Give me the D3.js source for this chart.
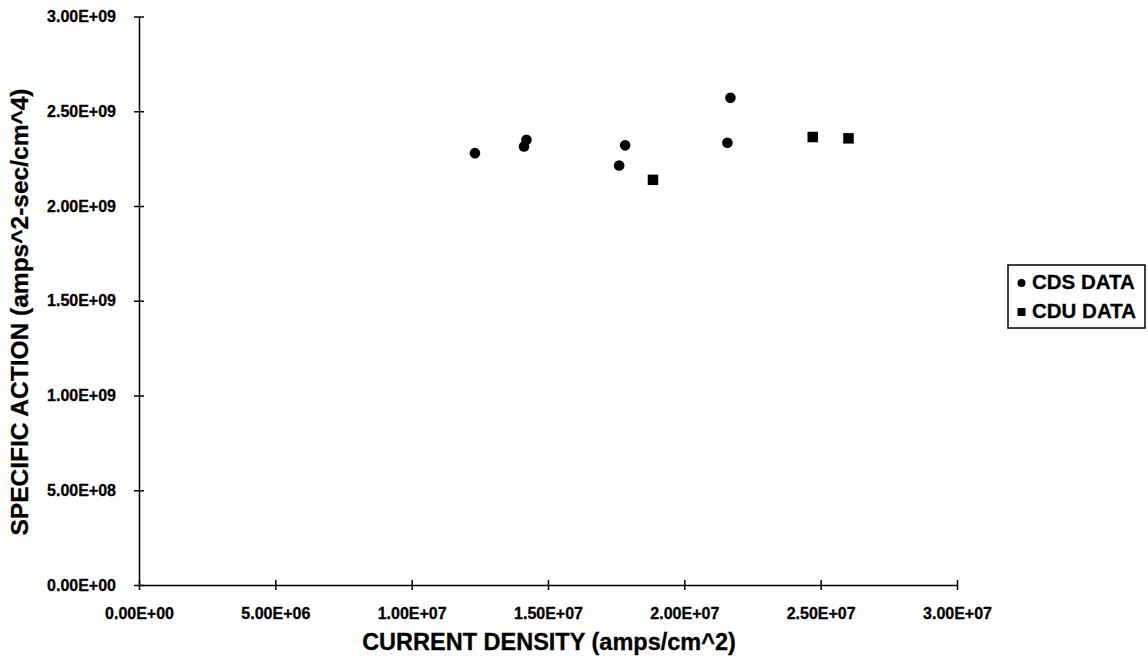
<!DOCTYPE html>
<html><head><meta charset="utf-8">
<script src="https://cdn.jsdelivr.net/npm/d3@7"></script>
<style>body{margin:0;background:#fff}svg{display:block}text{font-family:Arial,"Liberation Sans",sans-serif;font-weight:bold;fill:#000}</style>
</head><body><svg id="c" width="1148" height="667"></svg>
<script>
const cdsX = [1.232e7, 1.421e7, 1.412e7, 1.783e7, 1.761e7, 2.169e7, 2.158e7];
const cdsY = [2.279e9, 2.350e9, 2.314e9, 2.320e9, 2.214e9, 2.571e9, 2.334e9];
const cduX = [1.885e7, 2.471e7, 2.602e7];
const cduY = [2.138e9, 2.364e9, 2.357e9];
const xTicks = [0, 5e6, 1e7, 1.5e7, 2e7, 2.5e7, 3e7];
const yTicks = [0, 5e8, 1e9, 1.5e9, 2e9, 2.5e9, 3e9];
const seriesNames = ["CDS DATA", "CDU DATA"];
const xTitle = "CURRENT DENSITY (amps/cm^2)";
const yTitle = "SPECIFIC ACTION (amps^2-sec/cm^4)";

const fmt = v => { if (v === 0) return "0.00E+00"; const e = Math.floor(Math.log10(v)); const m = v / Math.pow(10, e); return m.toFixed(2) + "E+" + String(e).padStart(2, "0"); };

const svg = d3.select("#c");
const x = d3.scaleLinear().domain([0, 3e7]).range([139, 957]);
const y = d3.scaleLinear().domain([0, 3e9]).range([585, 16.5]);

// axes
const gx = svg.append("g").attr("transform", "translate(0,585)")
  .call(d3.axisBottom(x).tickValues(xTicks).tickFormat(fmt).tickSizeInner(5).tickSizeOuter(0).tickPadding(17));
gx.selectAll(".tick line").attr("y1", -5);
const gy = svg.append("g").attr("transform", "translate(139,0)")
  .call(d3.axisLeft(y).tickValues(yTicks).tickFormat(fmt).tickSizeInner(5).tickSizeOuter(0).tickPadding(18));
gy.selectAll(".tick line").attr("x1", 5);
svg.selectAll("g").attr("font-size", null).attr("font-family", null);
svg.selectAll(".domain, .tick line").attr("stroke", "#000").attr("stroke-width", 1.5);
svg.selectAll(".tick text").style("font-size", "16px").attr("stroke", "#000").attr("stroke-width", 0.3);
gx.selectAll(".tick text").attr("dy", "0.35em").attr("y", 28);

// titles
svg.append("text").attr("x", 549).attr("y", 650).attr("text-anchor", "middle").attr("font-size", 23.5).attr("stroke", "#000").attr("stroke-width", 0.3).text(xTitle);
svg.append("text").attr("transform", "translate(28,312) rotate(-90)").attr("text-anchor", "middle").attr("font-size", 24.5).attr("stroke", "#000").attr("stroke-width", 0.3).text(yTitle);

// points
svg.append("g").selectAll("circle").data(cdsX.map((v, i) => [v, cdsY[i]])).join("circle")
  .attr("cx", d => x(d[0])).attr("cy", d => y(d[1])).attr("r", 5.3).attr("fill", "#000");
const sq = 10.5;
svg.append("g").selectAll("rect").data(cduX.map((v, i) => [v, cduY[i]])).join("rect")
  .attr("x", d => x(d[0]) - sq / 2).attr("y", d => y(d[1]) - sq / 2).attr("width", sq).attr("height", sq).attr("fill", "#000");

// legend
const lg = svg.append("g");
lg.append("rect").attr("x", 1008).attr("y", 265).attr("width", 137).attr("height", 63).attr("fill", "#fff").attr("stroke", "#000").attr("stroke-width", 1.5);
lg.append("circle").attr("cx", 1021.5).attr("cy", 283).attr("r", 4).attr("fill", "#000");
lg.append("rect").attr("x", 1017.5).attr("y", 308).attr("width", 8).attr("height", 8).attr("fill", "#000");
lg.append("text").attr("x", 1032).attr("y", 289).attr("font-size", 20.5).attr("stroke", "#000").attr("stroke-width", 0.3).text(seriesNames[0]);
lg.append("text").attr("x", 1032).attr("y", 318).attr("font-size", 20.5).attr("stroke", "#000").attr("stroke-width", 0.3).text(seriesNames[1]);
</script></body></html>
